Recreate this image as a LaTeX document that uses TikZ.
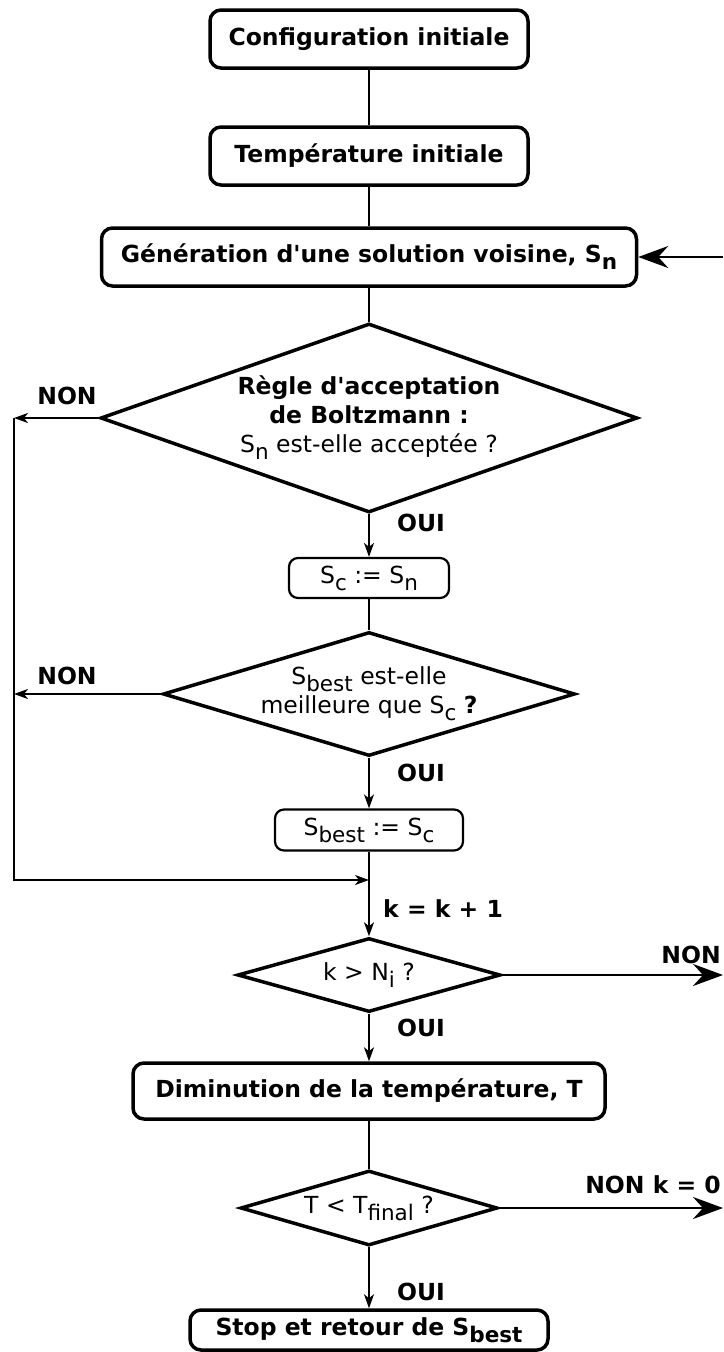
\documentclass[tikz,border=0pt]{standalone}
\usepackage{fontspec}
\setmainfont{DejaVu Sans}[Ligatures=TeXOff]
\usetikzlibrary{shapes.geometric,arrows.meta}
\newcommand\sbx[1]{\raisebox{-0.3em}{\fontsize{21.5}{23}\selectfont #1}}
\begin{document}
\begin{tikzpicture}[x=1pt,y=-1pt,
  every node/.style={font=\fontsize{23.5}{29}\selectfont},
  box/.style={draw, line width=3.5pt, rounded corners=11pt, align=center,
    font=\fontsize{23.5}{29}\selectfont\bfseries, inner sep=0},
  smallbox/.style={draw, line width=2.2pt, rounded corners=9pt, inner sep=0},
  dec/.style={draw, diamond, line width=3.5pt, inner sep=0, align=center},
  conn/.style={line width=1.8pt},
  arr/.style={conn, -{Stealth[length=14pt,width=10pt,inset=4pt]}},
  bigarr/.style={line width=2.2pt, -{Stealth[length=30pt,width=22pt,inset=10pt]}},
  lbl/.style={font=\fontsize{23.5}{29}\selectfont\bfseries, inner sep=0}
]
\useasboundingbox[fill=white] (0,0) rectangle (723,1352);

\node[box, minimum width=318, minimum height=58] (b1) at (369,39) {Configuration initiale};
\node[box, minimum width=318, minimum height=58] (b2) at (369,156) {Température initiale};
\node[box, minimum width=535, minimum height=58] (b3) at (369,257) {Génération d'une solution voisine, S\sbx{n}};

\node[dec, minimum width=537, minimum height=189, aspect=2.84] (d1) at (369,418)
  {\bfseries Règle d'acceptation\\\bfseries de Boltzmann :\\S\sbx{n} est-elle acceptée ?};

\node[smallbox, minimum width=160, minimum height=40] (sc) at (369,578) {S\sbx{c} := S\sbx{n}};

\node[dec, minimum width=412, minimum height=124, aspect=3.32] (d2) at (369,694)
  {S\sbx{best} est-elle\\meilleure que S\sbx{c} \textbf{?}};

\node[smallbox, minimum width=188, minimum height=41] (sb) at (369,830) {S\sbx{best} := S\sbx{c}};

\node[dec, minimum width=263, minimum height=74, aspect=3.55] (d3) at (369,975) {k > N\sbx{i} ?};

\node[box, minimum width=472, minimum height=56] (b4) at (369,1091) {Diminution de la température, T};

\node[dec, minimum width=257, minimum height=75, aspect=3.43] (d4) at (369,1208) {T < T\sbx{final} ?};

\node[box, minimum width=358, minimum height=40] (b5) at (369,1330) {Stop et retour de S\sbx{best}};

\coordinate (l1) at (14,418);
\coordinate (l2) at (14,694);
\coordinate (lb) at (14,880);
\coordinate (jn) at (369,880);
\coordinate (r3) at (723,975);
\coordinate (r4) at (723,1208);
\coordinate (rt) at (723,257);

\draw[conn] (b1) -- (b2);
\draw[conn] (b2) -- (b3);
\draw[conn] (b3) -- (d1);
\draw[arr] (d1) -- (sc);
\draw[conn] (sc) -- (d2);
\draw[arr] (d2) -- (sb);
\draw[arr] (sb) -- (d3);
\draw[arr] (d3) -- (b4);
\draw[conn] (b4) -- (d4);
\draw[arr] (d4) -- (b5);

\draw[arr] (d1.west) -- (l1);
\draw[arr] (d2.west) -- (l2);
\draw[arr] (l1) -- (lb) -- (jn);

\draw[bigarr] (d3.east) -- (r3);
\draw[bigarr] (d4.east) -- (r4);
\draw[bigarr] (rt) -- (b3.east);

\node[lbl] (n1) at (67,396) {NON};
\node[lbl] (n2) at (67,676) {NON};
\node[lbl, anchor=east] (n3) at (721,955) {NON};
\node[lbl, anchor=east] (n4) at (721,1185) {NON k = 0};

\node[lbl] (o1) at (421,523) {OUI};
\node[lbl] (o2) at (421,773) {OUI};
\node[lbl] (o3) at (421,1028) {OUI};
\node[lbl] (o4) at (421,1292) {OUI};
\node[lbl, anchor=west] (kk) at (383,909) {k = k + 1};
\end{tikzpicture}
\end{document}
